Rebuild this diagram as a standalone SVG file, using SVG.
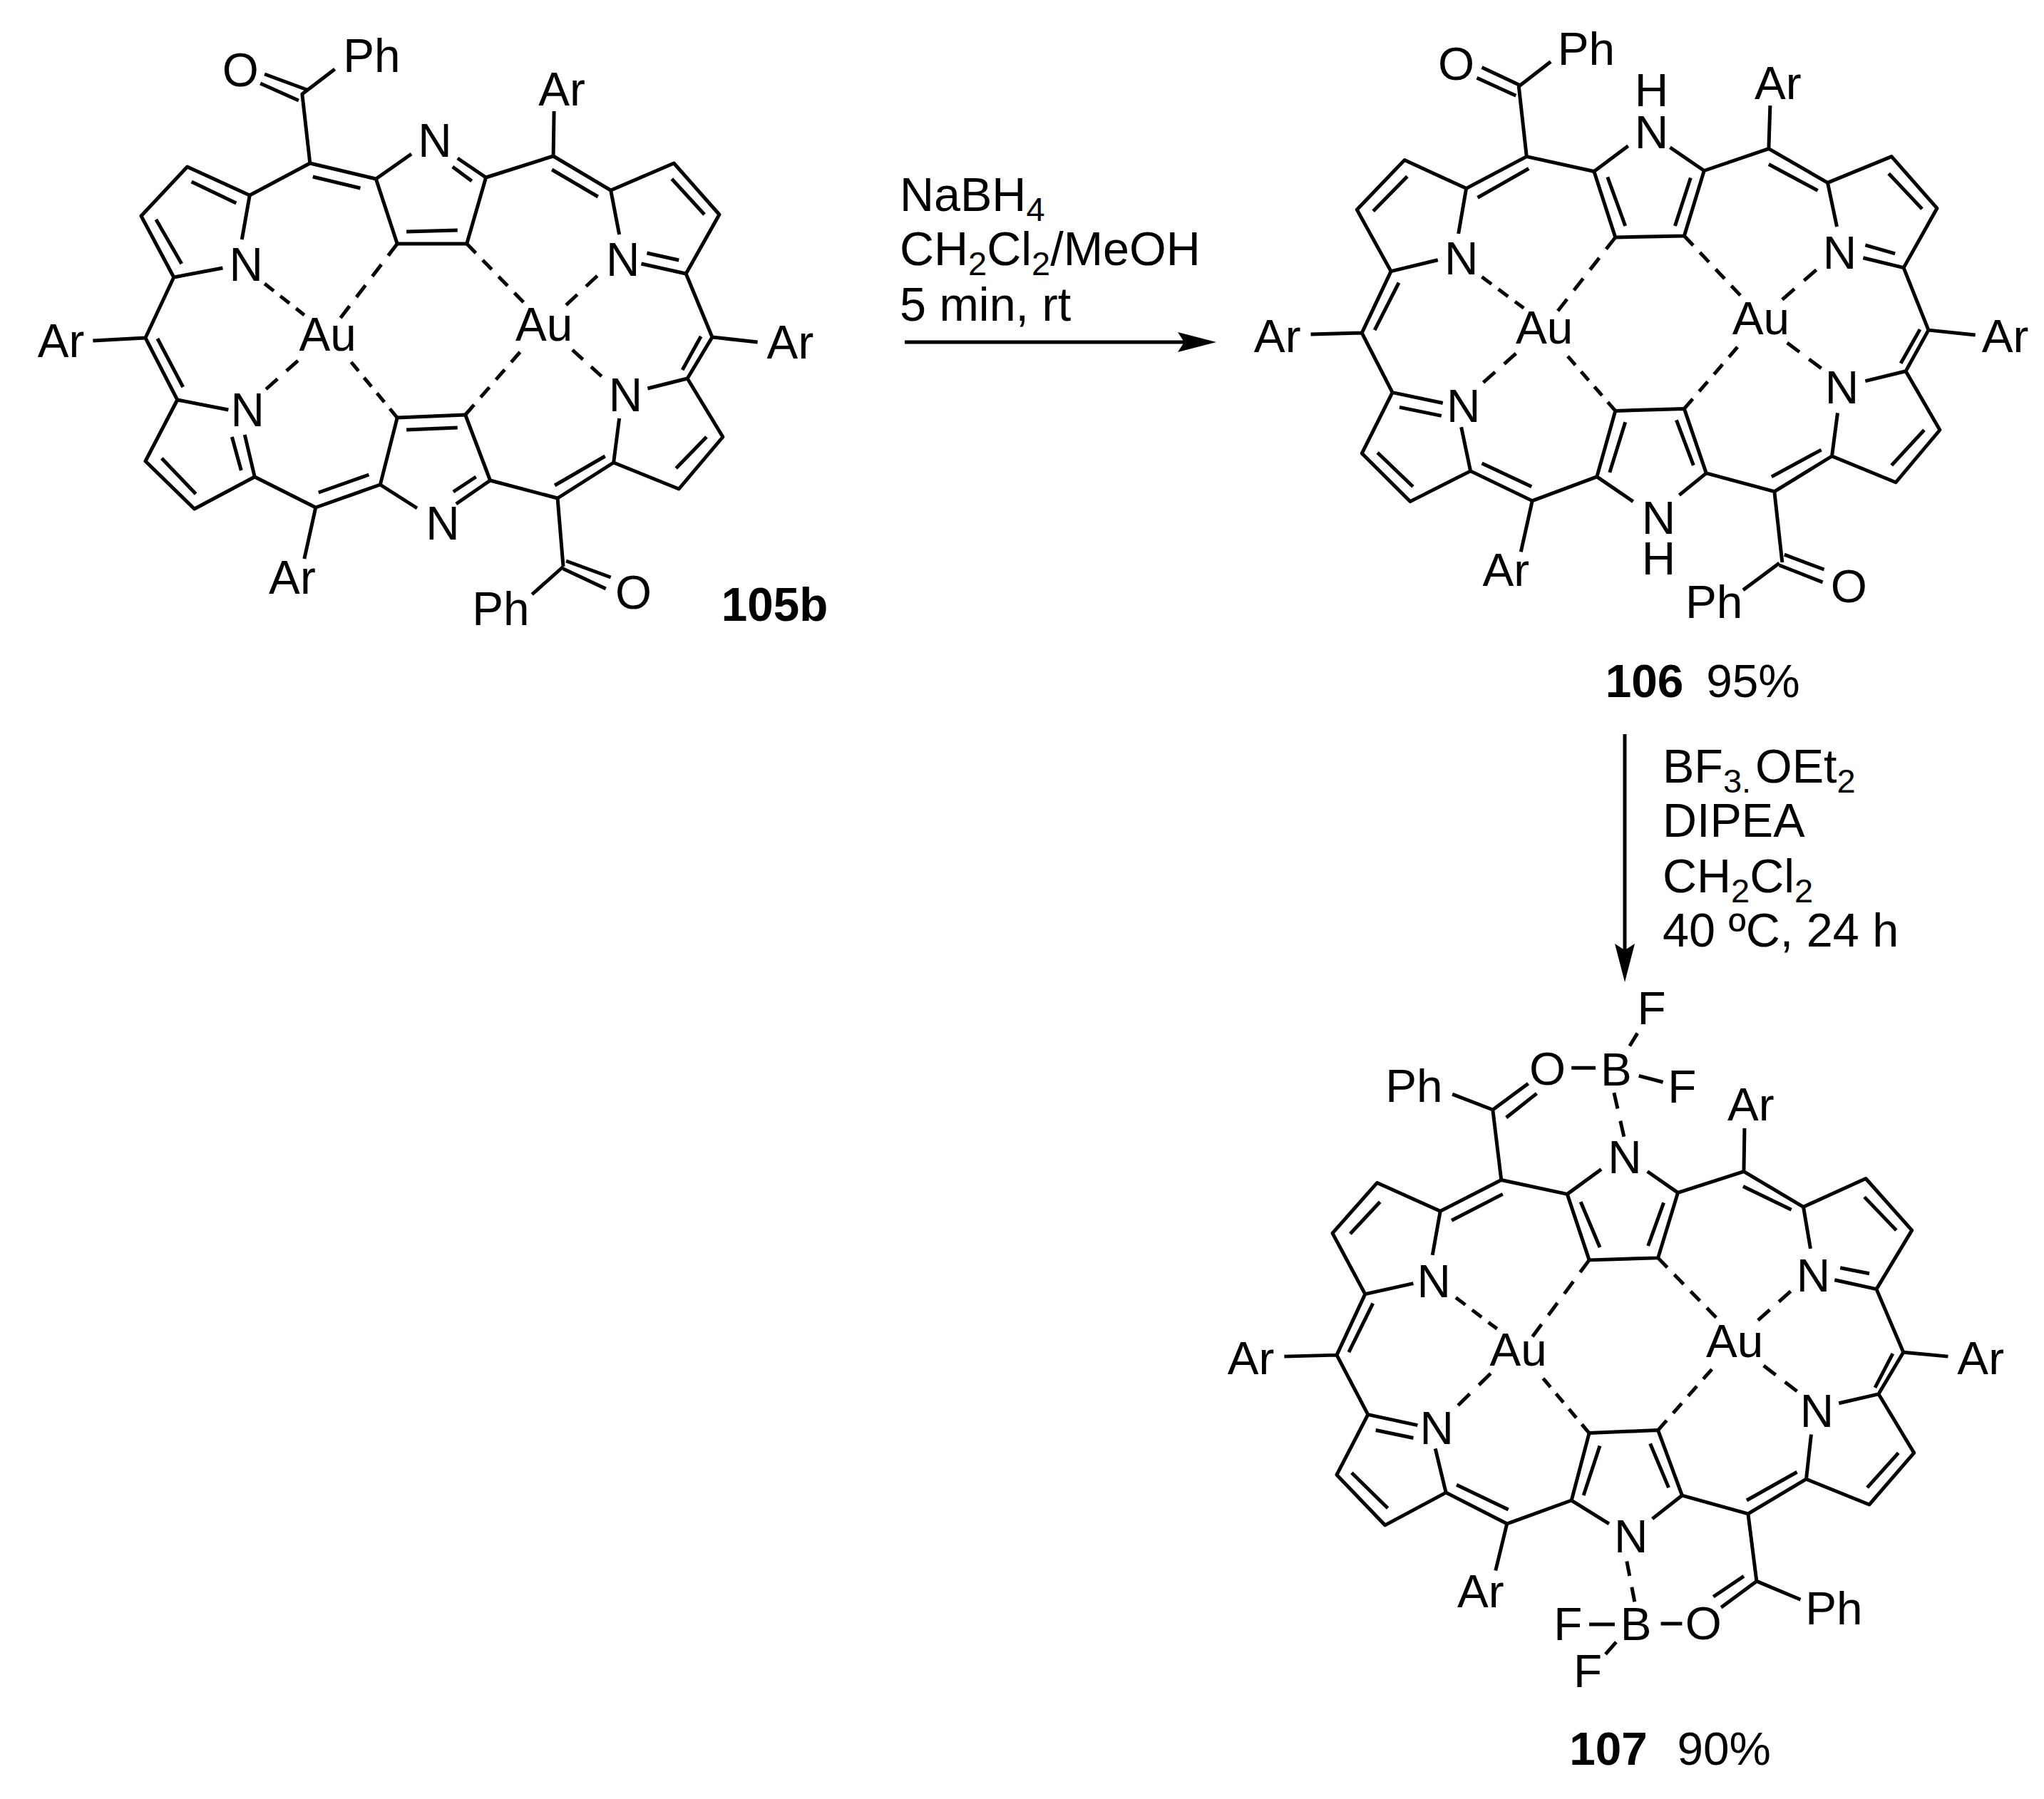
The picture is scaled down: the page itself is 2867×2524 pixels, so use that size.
<svg xmlns="http://www.w3.org/2000/svg" width="2867" height="2524" viewBox="0 0 2867 2524">
<style>
text{font-family:"Liberation Sans",Arial,sans-serif;font-size:66px;fill:#000}
.a{text-anchor:middle}
.bold{font-weight:bold}
.b{fill:none;stroke:#000;stroke-width:5;stroke-linecap:butt;stroke-linejoin:round}
.d2,.d3,.d4{fill:none;stroke:#000;stroke-width:5}
.d2{stroke-dasharray:36 28}
.d3{stroke-dasharray:23 16.5}
.d4{stroke-dasharray:16 12}
.c{font-size:66.5px}
.s{font-size:47px}
.arrow{fill:none;stroke:#000;stroke-width:5;marker-end:url(#head)}
</style>
<defs>
<marker id="head" markerUnits="userSpaceOnUse" markerWidth="60" markerHeight="32" refX="9" refY="16" orient="auto" overflow="visible">
<path d="M0 2L54 16L0 30L9 16Z" fill="#000"/>
</marker>
</defs>
<rect width="2867" height="2524" fill="#fff"/>
<g id="mol-105b" transform="matrix(.995 0 0 1 0 0)">
<path class="b" d="M472 97L426 132L437 229M352 274L437 229L530 251L580 216M530 251L560 342L658 342L685 249L645 222M685 249L780 219L781 156M780 219L861 267L873 329M861 267L950 229L1014 301L967 384L904 370M967 384L1004 473L1068 480M1004 473L969 531L913 545M969 531L1019 613L957 686L865 649L873 587M865 649L786 699L794 795M786 699L691 674L643 707M691 674L656 582L560 586L536 680L588 713M536 680L445 712L429 784M445 712L359 669L345 610M359 669L274 714L205 647L250 561L322 575M250 561L205 474L131 478M205 474L245 389L314 376M245 389L199 303L264 234L352 274L341 336"/>
<path class="b" d="M373 104L433 126M367 117L421 141M798 787L861 810M794 798L854 826M794 795L750 834M441 248L508 264M638 234L665 254M573 325L645 323M778 238L843 276M947 251L993 301M912 355L957 365M988 472L962 519M996 613L953 657M853 640L782 681M671 669L639 690M573 603L645 600M520 666L449 691M276 693L228 643M340 660L327 613M258 543L222 475M220 308L256 370M270 255L333 285"/>
<g>
<path class="d3" pathLength="100" d="M373 398L429 442"/><path class="d4" pathLength="100" d="M560 342L480 446"/><path class="d2" pathLength="100" d="M420 506L375 546"/><path class="d4" pathLength="100" d="M495 508L560 586"/><path class="d4" pathLength="100" d="M658 342L738 424"/><path class="d2" pathLength="100" d="M842 387L798 428"/><path class="d2" pathLength="100" d="M807 491L848 528"/><path class="d4" pathLength="100" d="M733 494L656 582"/>
</g>
<g class="a">
<text x="339" y="121">O</text><text x="524" y="101">Ph</text><text x="613" y="220">N</text><text x="792" y="148">Ar</text><text x="347" y="394">N</text><text x="878" y="387">N</text><text x="86" y="501">Ar</text><text x="462" y="492">Au</text><text x="767" y="478">Au</text><text x="1114" y="503">Ar</text><text x="349" y="598">N</text><text x="882" y="577">N</text><text x="624" y="757">N</text><text x="412" y="833">Ar</text><text x="893" y="854">O</text><text x="706" y="877">Ph</text>
<text class="bold" x="1092" y="871">105b</text>
</g>
</g>
<g id="mol-106" transform="matrix(.99592 0 0 .9938 7.02 0)">
<path class="b" d="M2177 87L2132 122L2143 221M2058 266L2143 221L2238 242L2286 206M2238 242L2268 335L2365 333L2393 241L2345 208M2393 241L2484 210L2486 149M2484 210L2567 258L2580 320M2567 258L2657 221L2721 294L2674 378L2617 364M2674 378L2709 466L2775 473M2709 466L2677 524L2620 538M2677 524L2725 607L2663 681L2573 644L2581 583M2573 644L2492 694L2503 794M2492 694L2396 668L2358 699M2396 668L2365 577L2268 580L2242 673L2293 708M2242 673L2151 707L2135 779M2151 707L2064 665L2051 603M2064 665L1979 708L1911 640L1954 554L2025 569M1954 554L1911 470L1839 472M1911 470L1952 383L2018 367M1952 383L1904 296L1971 226L2058 266L2047 330"/>
<path class="b" d="M2080 95L2135 121M2073 110L2128 135M2506 783L2562 804M2499 798L2560 822M2499 795L2448 833M2257 250L2282 319M2374 251L2352 319M2146 238L2074 279M1975 249L1927 298M1963 399L1929 466M1964 575L2023 587M1933 639L1983 687M2080 654L2150 687M2260 667L2282 596M2378 657L2354 593M2488 673L2558 635M2657 657L2703 607M2670 513L2697 465M2662 358L2620 346M2653 245L2700 295M2553 269L2484 232"/>
<g>
<path class="d4" pathLength="100" d="M2268 335L2187 439"/><path class="d4" pathLength="100" d="M2365 333L2444 417"/><path class="d3" pathLength="100" d="M2080 391L2139 435"/><path class="d2" pathLength="100" d="M2128 499L2082 540"/><path class="d4" pathLength="100" d="M2201 503L2268 580"/><path class="d4" pathLength="100" d="M2440 490L2365 577"/><path class="d2" pathLength="100" d="M2551 381L2503 423"/><path class="d2" pathLength="100" d="M2510 484L2558 520"/>
</g>
<g class="a">
<text x="2044" y="113">O</text><text x="2227" y="92">Ph</text><text x="2319" y="150">H</text><text x="2319" y="209">N</text><text x="2497" y="140">Ar</text><text x="2051" y="387">N</text><text x="2584" y="379">N</text><text x="1792" y="497">Ar</text><text x="2168" y="485">Au</text><text x="2473" y="472">Au</text><text x="2817" y="497">Ar</text><text x="2054" y="596">N</text><text x="2587" y="570">N</text><text x="2329" y="754">N</text><text x="2329" y="811">H</text><text x="2114" y="827">Ar</text><text x="2597" y="850">O</text><text x="2407" y="872">Ph</text>
<text class="bold" x="2309" y="984">106</text><text x="2462" y="984">95%</text>
</g>
</g>
<g id="mol-107" transform="matrix(.99474 0 0 .99454 8.84 7.53)">
<path class="b" d="M2039 1536L2096 1558L2108 1657M2096 1558L2146 1521M2115 1569L2158 1535M2022 1701L2108 1657L2201 1677L2249 1642M2201 1677L2232 1770L2329 1767L2357 1675L2314 1645M2357 1675L2450 1645L2451 1584M2450 1645L2534 1695L2544 1754M2534 1695L2622 1655L2687 1728L2637 1811L2578 1798M2637 1811L2675 1900L2738 1906M2675 1900L2640 1959L2584 1972M2640 1959L2690 2042L2627 2115L2538 2079L2545 2016M2538 2079L2456 2128L2468 2223L2530 2249M2468 2223L2418 2260M2450 2216L2407 2245M2456 2128L2363 2102L2321 2135M2363 2102L2329 2010L2232 2014L2207 2109L2260 2142M2207 2109L2116 2142L2100 2208M2116 2142L2030 2098L2015 2036M2030 2098L1944 2144L1876 2073L1920 1988L1990 2003M1920 1988L1876 1904L1802 1906M1876 1904L1916 1818L1984 1803M1916 1818L1870 1732L1933 1661L2022 1701L2011 1763"/>
<path class="b" d="M2207 1499L2241 1499M2289 1468L2300 1450M2302 1510L2336 1519M2333 2283L2363 2283M2232 2284L2268 2284M2270 2309L2255 2326M2220 1688L2247 1752M2337 1689L2315 1750M2110 1677L2038 1714M1937 1688L1895 1733M1927 1831L1893 1900M1931 2010L1984 2021M1897 2070L1948 2120M2045 2087L2118 2122M2224 2102L2247 2032M2344 2091L2318 2029M2454 2109L2525 2069M2624 2091L2668 2042M2635 1950L2660 1902M2627 1789L2586 1781M2620 1681L2665 1728M2517 1699L2449 1666"/>
<g>
<path class="d2" pathLength="100" d="M2267 1534L2281 1596"/><path class="d2" pathLength="100" d="M2285 2195L2296 2252"/><path class="d4" pathLength="100" d="M2232 1770L2152 1878"/><path class="d4" pathLength="100" d="M2329 1767L2411 1851"/><path class="d3" pathLength="100" d="M2044 1823L2102 1867"/><path class="d2" pathLength="100" d="M2093 1930L2047 1975"/><path class="d4" pathLength="100" d="M2167 1937L2232 2014"/><path class="d4" pathLength="100" d="M2405 1924L2329 2010"/><path class="d2" pathLength="100" d="M2516 1814L2470 1855"/><path class="d2" pathLength="100" d="M2478 1919L2525 1955"/>
</g>
<g class="a">
<text x="2320" y="1437">F</text><text x="2270" y="1524">B</text><text x="2363" y="1548">F</text><text x="2173" y="1523">O</text><text x="1985" y="1547">Ph</text><text x="2282" y="1647">N</text><text x="2460" y="1573">Ar</text><text x="2013" y="1822">N</text><text x="2548" y="1814">N</text><text x="1755" y="1931">Ar</text><text x="2132" y="1919">Au</text><text x="2437" y="1907">Au</text><text x="2784" y="1931">Ar</text><text x="2017" y="2030">N</text><text x="2553" y="2005">N</text><text x="2291" y="2182">N</text><text x="2079" y="2260">Ar</text><text x="2577" y="2284">Ph</text><text x="2393" y="2305">O</text><text x="2298" y="2306">B</text><text x="2202" y="2306">F</text><text x="2230" y="2372">F</text>
<text class="bold" x="2259" y="2482">107</text><text x="2422" y="2482">90%</text>
</g>
</g>
<g id="connectors">
<path class="arrow" d="M1269 480L1661 480"/>
<path class="arrow" d="M2279 1030L2279 1333"/>
</g>
<g id="conditions-1">
<text class="c" x="1262" y="296">NaBH<tspan class="s" dy="14">4</tspan></text>
<text class="c" x="1262" y="372">CH<tspan class="s" dy="14">2</tspan><tspan dy="-14">Cl</tspan><tspan class="s" dy="14">2</tspan><tspan dy="-14">/MeOH</tspan></text>
<text class="c" x="1262" y="450">5 min, rt</text>
</g>
<g id="conditions-2">
<text class="c" x="2332" y="1098">BF<tspan class="s" dy="14">3.</tspan><tspan x="2462" dy="-14">OEt</tspan><tspan class="s" dy="14">2</tspan></text>
<text class="c" x="2332" y="1174">DIPEA</text>
<text class="c" x="2332" y="1252">CH<tspan class="s" dy="14">2</tspan><tspan dy="-14">Cl</tspan><tspan class="s" dy="14">2</tspan></text>
<text class="c" x="2332" y="1328">40 ºC, 24 h</text>
</g>
</svg>
